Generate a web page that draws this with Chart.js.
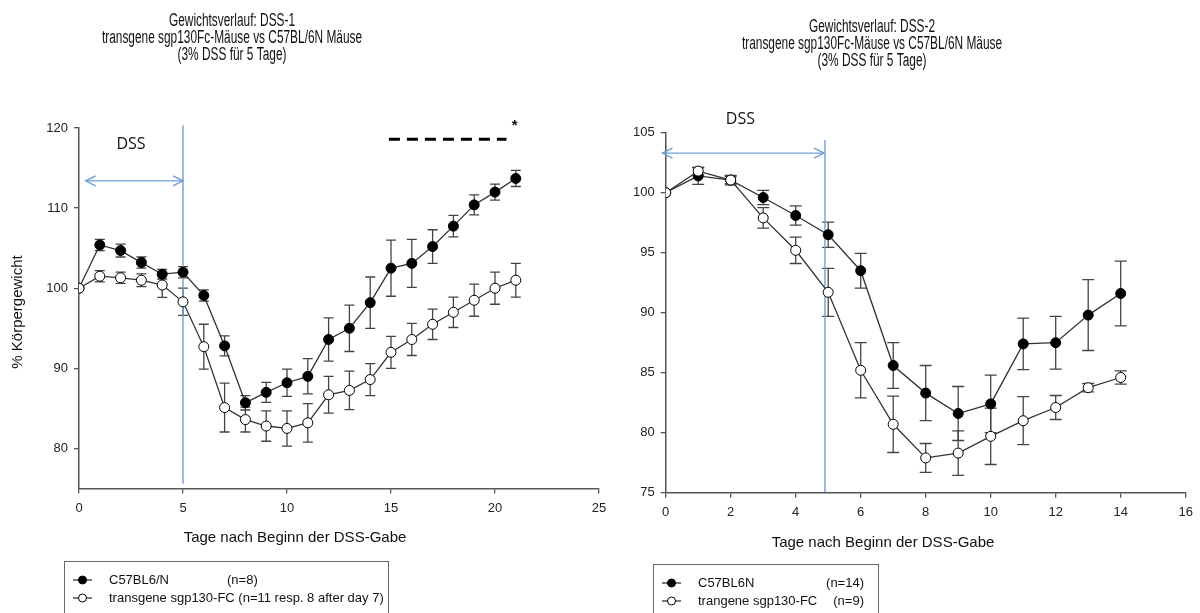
<!DOCTYPE html>
<html>
<head>
<meta charset="utf-8">
<script src="https://cdn.jsdelivr.net/npm/chart.js@4.4.0/dist/chart.umd.min.js"></script>
<style>
  body { margin: 0; background: #fff; width: 1200px; height: 613px; overflow: hidden; position: relative; }
  .panel { position: absolute; top: 0; height: 613px; }
  #left { left: 0; width: 640px; }
  #right { left: 600px; width: 600px; }
</style>
</head>
<body>
<div class="panel" id="left"><canvas id="dss1"></canvas></div>
<div class="panel" id="right"><canvas id="dss2"></canvas></div>
<script>
const FONT = '"Liberation Sans", Arial, sans-serif';

const xTitle = 'Tage nach Beginn der DSS-Gabe';
const yTitle = '% Körpergewicht';

// DSS-1
const days1 = [0, 1, 2, 3, 4, 5, 6, 7, 8, 9, 10, 11, 12, 13, 14, 15, 16, 17, 18, 19, 20, 21];
const wild1 = [100, 105.4, 104.7, 103.2, 101.75, 102.0, 99.1, 92.8, 85.7, 87.0, 88.2, 89.0, 93.6, 95.0, 98.2, 102.5, 103.1, 105.2, 107.75, 110.4, 112.0, 113.7];
const wildErr1 = [0, 0.7, 0.8, 0.7, 0.6, 0.7, 0.7, 1.25, 0.9, 1.25, 1.7, 2.2, 2.7, 2.9, 3.2, 3.5, 3.0, 2.1, 1.35, 1.25, 1.0, 1.0];
const trans1 = [100, 101.5, 101.3, 101.0, 100.4, 98.3, 92.7, 85.1, 83.6, 82.8, 82.5, 83.2, 86.7, 87.25, 88.6, 92.0, 93.6, 95.5, 97.0, 98.5, 100.0, 101.0];
const transErr1 = [0, 0.7, 0.7, 0.8, 1.55, 1.7, 2.8, 3.05, 1.55, 1.9, 2.2, 2.4, 2.3, 2.4, 2.0, 2.0, 2.0, 1.9, 1.9, 2.0, 2.0, 2.1];
const xTicks1 = [0, 5, 10, 15, 20, 25];
const yTicks1 = [80, 90, 100, 110, 120];
const title1 = ['Gewichtsverlauf: DSS-1', 'transgene sgp130Fc-Mäuse vs C57BL/6N Mäuse', '(3% DSS für 5 Tage)'];
const legend1 = [['C57BL6/N', '(n=8)'], ['transgene sgp130-FC (n=11 resp. 8 after day 7)', '']];
const dssEnd1 = 5, dssArrow1 = [0.32, 5], dssLevel1 = 113.4, dssSpan1 = [75.6, 120.3];
const signif1 = [14.9, 20.55], signifLevel1 = 118.6;

// DSS-2
const days2 = [0, 1, 2, 3, 4, 5, 6, 7, 8, 9, 10, 11, 12, 13, 14];
const wild2 = [100, 101.4, 101.05, 99.6, 98.1, 96.5, 93.5, 85.6, 83.3, 81.6, 82.4, 87.4, 87.5, 89.8, 91.6];
const wildErr2 = [0, 0.7, 0.4, 0.6, 0.8, 1.05, 1.45, 1.9, 2.3, 2.25, 2.4, 2.15, 2.2, 2.95, 2.7];
const trans2 = [100, 101.8, 101.05, 97.9, 95.2, 91.7, 85.2, 80.7, 77.9, 78.3, 79.7, 81.0, 82.1, 83.75, 84.6];
const transErr2 = [0, 0.3, 0.3, 0.85, 1.1, 2.0, 2.3, 2.35, 1.2, 1.85, 2.35, 2.0, 1.0, 0.35, 0.55];
const xTicks2 = [0, 2, 4, 6, 8, 10, 12, 14, 16];
const yTicks2 = [75, 80, 85, 90, 95, 100, 105];
const title2 = ['Gewichtsverlauf: DSS-2', 'transgene sgp130Fc-Mäuse vs C57BL/6N Mäuse', '(3% DSS für 5 Tage)'];
const legend2 = [['C57BL6N', '(n=14)'], ['trangene sgp130-FC', '(n=9)']];
const dssEnd2 = 4.9, dssArrow2 = [-0.1, 4.87], dssLevel2 = 103.3, dssSpan2 = [75.05, 104.4];

const BLUE = '#6f9fd6';

function pts(xs, ys) { return xs.map((x, i) => ({ x: x, y: ys[i] })); }

function seriesSet(xs, ys, errs, filled) {
  return {
    data: pts(xs, ys), errors: errs,
    borderColor: '#333', borderWidth: 1.3,
    pointRadius: 5, pointHoverRadius: 5, pointBorderWidth: 1,
    pointBorderColor: '#000', pointBackgroundColor: filled ? '#000' : '#fff',
    tension: 0
  };
}

const errorBars = {
  id: 'errorBars',
  beforeDatasetsDraw(chart) {
    const { ctx, scales: { x, y } } = chart;
    const cap = chart.options.plugins.decor.cap;
    ctx.save();
    ctx.strokeStyle = '#444';
    ctx.lineWidth = 1.3;
    chart.data.datasets.forEach(ds => {
      if (!ds.errors) return;
      ds.data.forEach((p, i) => {
        const e = ds.errors[i];
        if (!e) return;
        const px = x.getPixelForValue(p.x);
        const top = y.getPixelForValue(p.y + e), bot = y.getPixelForValue(p.y - e);
        ctx.beginPath();
        ctx.moveTo(px, top); ctx.lineTo(px, bot);
        ctx.moveTo(px - cap, top); ctx.lineTo(px + cap, top);
        ctx.moveTo(px - cap, bot); ctx.lineTo(px + cap, bot);
        ctx.stroke();
      });
    });
    ctx.restore();
  }
};

const decor = {
  id: 'decor',
  afterDraw(chart, args, o) {
    const { ctx, scales: { x, y } } = chart;
    ctx.save();
    ctx.fillStyle = '#111';
    ctx.textAlign = 'center';
    ctx.textBaseline = 'middle';

    // title, set in a narrow face like the original
    ctx.save();
    ctx.font = '18px ' + FONT;
    ctx.translate(o.titleX, 0);
    ctx.scale(0.66, 1);
    o.title.forEach((t, i) => ctx.fillText(t, 0, o.titleY + i * 16.8));
    ctx.restore();

    // axis titles
    ctx.font = '15px ' + FONT;
    ctx.fillText(xTitle, o.xTitleX, o.xTitleY);
    if (o.yTitleX) {
      ctx.save();
      ctx.translate(o.yTitleX, o.yTitleY);
      ctx.rotate(-Math.PI / 2);
      ctx.fillText(yTitle, 0, 0);
      ctx.restore();
    }

    // DSS label and arrow heads
    ctx.font = '16px "Open Sans", sans-serif';
    ctx.fillText('DSS', x.getPixelForValue(o.dssLabel[0]), y.getPixelForValue(o.dssLabel[1]));
    const ay = y.getPixelForValue(o.arrowLevel);
    const a0 = x.getPixelForValue(o.arrow[0]), a1 = x.getPixelForValue(o.arrow[1]);
    ctx.strokeStyle = BLUE;
    ctx.lineWidth = 1.4;
    ctx.beginPath();
    ctx.moveTo(a0 + 10, ay - 5); ctx.lineTo(a0, ay); ctx.lineTo(a0 + 10, ay + 5);
    ctx.moveTo(a1 - 10, ay - 5); ctx.lineTo(a1, ay); ctx.lineTo(a1 - 10, ay + 5);
    ctx.stroke();

    // significance mark
    if (o.star) {
      ctx.fillStyle = '#111';
      ctx.font = 'bold 15px ' + FONT;
      ctx.fillText('*', x.getPixelForValue(o.star[0]), y.getPixelForValue(o.star[1]));
    }

    // legend box
    const L = o.legend;
    ctx.strokeStyle = '#666';
    ctx.lineWidth = 1;
    ctx.strokeRect(L.left + 0.5, L.top + 0.5, L.right - L.left, 80);
    ctx.font = '13px ' + FONT;
    ctx.textBaseline = 'middle';
    o.legendRows.forEach((row, i) => {
      const ry = L.rows[i];
      ctx.strokeStyle = '#222';
      ctx.lineWidth = 1.2;
      ctx.beginPath();
      ctx.moveTo(L.mark, ry); ctx.lineTo(L.mark + 19, ry);
      ctx.stroke();
      ctx.beginPath();
      ctx.arc(L.mark + 9.5, ry, 4, 0, Math.PI * 2);
      ctx.fillStyle = i === 0 ? '#000' : '#fff';
      ctx.fill();
      ctx.strokeStyle = '#000';
      ctx.lineWidth = 1;
      ctx.stroke();
      ctx.fillStyle = '#111';
      ctx.textAlign = 'left';
      ctx.fillText(row[0], L.text, ry);
      if (row[1]) {
        if (L.nRight) { ctx.textAlign = 'right'; ctx.fillText(row[1], L.nRight, ry); }
        else { ctx.fillText(row[1], L.n, ry); }
      }
    });
    ctx.restore();
  }
};

function axes(xMin, xMax, xT, yMin, yMax, yT, yWidth) {
  const tickFont = { family: FONT, size: 13 };
  return {
    x: {
      type: 'linear', min: xMin, max: xMax,
      afterBuildTicks: a => { a.ticks = xT.map(v => ({ value: v })); },
      afterFit: s => { s.height = 30; },
      ticks: { font: tickFont, color: '#222', padding: 7, maxRotation: 0, autoSkip: false },
      grid: { drawOnChartArea: false, drawTicks: true, tickLength: 5, color: '#555', lineWidth: 1.3 },
      border: { color: '#555', width: 1.5 }
    },
    y: {
      type: 'linear', min: yMin, max: yMax,
      afterBuildTicks: a => { a.ticks = yT.map(v => ({ value: v })); },
      afterFit: s => { s.width = yWidth; },
      ticks: { font: tickFont, color: '#222', padding: 6, autoSkip: false },
      grid: { drawOnChartArea: false, drawTicks: true, tickLength: 5, color: '#555', lineWidth: 1.3 },
      border: { color: '#555', width: 1.5 }
    }
  };
}

function guide(data, color, width, dash) {
  return {
    data: data, borderColor: color, borderWidth: width, borderDash: dash || [],
    pointRadius: 0, pointHoverRadius: 0, clip: false, errors: null
  };
}

new Chart(document.getElementById('dss1'), {
  type: 'line',
  data: {
    datasets: [
      seriesSet(days1, trans1, transErr1, false),
      seriesSet(days1, wild1, wildErr1, true),
      guide([{ x: dssEnd1, y: dssSpan1[0] }, { x: dssEnd1, y: dssSpan1[1] }], BLUE, 1.4),
      guide([{ x: dssArrow1[0], y: dssLevel1 }, { x: dssArrow1[1], y: dssLevel1 }], BLUE, 1.4),
      guide([{ x: signif1[0], y: signifLevel1 }, { x: signif1[1], y: signifLevel1 }], '#000', 3, [11, 7])
    ]
  },
  options: {
    responsive: true, maintainAspectRatio: false, animation: false,
    layout: { padding: { left: 0, right: 41, top: 128, bottom: 94.5 } },
    scales: axes(0, 25, xTicks1, 75, 120, yTicks1, 79),
    plugins: {
      legend: { display: false }, tooltip: { enabled: false },
      decor: {
        cap: 5,
        title: title1, titleX: 232, titleY: 21,
        xTitleX: 295, xTitleY: 538, yTitleX: 18, yTitleY: 312,
        dssLabel: [2.5, 117.9], arrow: dssArrow1, arrowLevel: dssLevel1,
        star: [20.95, 120.3],
        legend: { left: 64, right: 388, top: 561, mark: 73, text: 109, n: 227, rows: [580, 598] },
        legendRows: legend1
      }
    }
  },
  plugins: [errorBars, decor]
});

new Chart(document.getElementById('dss2'), {
  type: 'line',
  data: {
    datasets: [
      seriesSet(days2, trans2, transErr2, false),
      seriesSet(days2, wild2, wildErr2, true),
      guide([{ x: dssEnd2, y: dssSpan2[0] }, { x: dssEnd2, y: dssSpan2[1] }], BLUE, 1.4),
      guide([{ x: dssArrow2[0], y: dssLevel2 }, { x: dssArrow2[1], y: dssLevel2 }], BLUE, 1.4)
    ]
  },
  options: {
    responsive: true, maintainAspectRatio: false, animation: false,
    layout: { padding: { left: 0, right: 14.3, top: 132.7, bottom: 90.3 } },
    scales: axes(0, 16, xTicks2, 75, 105, yTicks2, 65.7),
    plugins: {
      legend: { display: false }, tooltip: { enabled: false },
      decor: {
        cap: 6,
        title: title2, titleX: 272, titleY: 27,
        xTitleX: 283, xTitleY: 543, yTitleX: 0,
        dssLabel: [2.3, 106.1], arrow: dssArrow2, arrowLevel: dssLevel2,
        star: null,
        legend: { left: 53, right: 278, top: 564, mark: 62, text: 98, nRight: 264, rows: [583, 601] },
        legendRows: legend2
      }
    }
  },
  plugins: [errorBars, decor]
});
</script>
</body>
</html>
